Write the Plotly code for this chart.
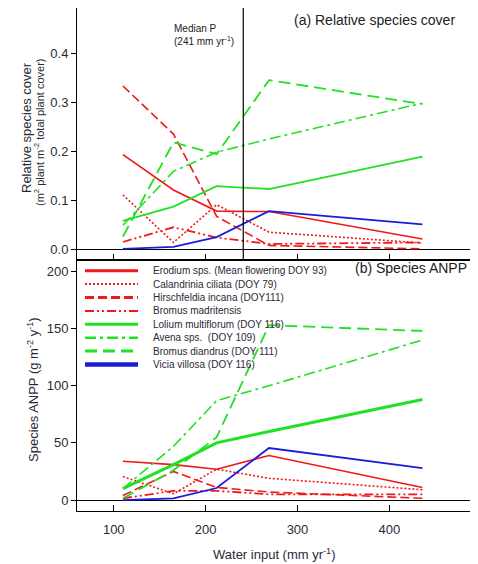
import plotly.graph_objects as go

# ---------------- data ----------------
water = [110, 165, 212, 269, 436]

species = [
    "Erodium sps. (Mean flowering DOY 93)",
    "Calandrinia ciliata (DOY 79)",
    "Hirschfeldia incana (DOY111)",
    "Bromus madritensis",
    "Lolium multiflorum (DOY 116)",
    "Avena sps.  (DOY 109)",
    "Bromus diandrus (DOY 111)",
    "Vicia villosa (DOY 116)",
]

cover_erodium = [0.194, 0.122, 0.079, 0.078, 0.022]
cover_calandrinia = [0.112, 0.015, 0.092, 0.036, 0.014]
cover_hirschfeldia = [0.334, 0.236, 0.068, 0.009, 0.002]
cover_bromus_mad = [0.016, 0.046, 0.025, 0.012, 0.015]
cover_lolium = [0.059, 0.088, 0.130, 0.124, 0.190]
cover_avena = [0.050, 0.160, 0.199, 0.226, 0.299]
cover_bromus_dia = [0.027, 0.219, 0.195, 0.346, 0.297]
cover_vicia = [0.002, 0.006, 0.026, 0.079, 0.052]

anpp_erodium = [34, 31, 27, 39, 11]
anpp_calandrinia = [20.5, 5.5, 27, 19, 9]
anpp_hirschfeldia = [4, 25, 11, 7, 1.5]
anpp_bromus_mad = [1.5, 8, 8, 5, 5]
anpp_lolium = [10, 31, 50, 60, 88]
anpp_avena = [10, 47, 87, 100, 140]
anpp_bromus_dia = [1.5, 26, 55, 153, 148]
anpp_vicia = [0, 1.5, 10.5, 45.5, 28]

median_p = 241

x_ticks = [100, 200, 300, 400]
cover_ticks = [0.0, 0.1, 0.2, 0.3, 0.4]
anpp_ticks = [0, 50, 100, 150, 200]

cover_series = [cover_erodium, cover_calandrinia, cover_hirschfeldia, cover_bromus_mad,
                cover_lolium, cover_avena, cover_bromus_dia, cover_vicia]
anpp_series = [anpp_erodium, anpp_calandrinia, anpp_hirschfeldia, anpp_bromus_mad,
               anpp_lolium, anpp_avena, anpp_bromus_dia, anpp_vicia]

# ---------------- styles ----------------
RED = "#f01818"
GREEN = "#22e022"
BLUE = "#1c1cd8"
colors = [RED, RED, RED, RED, GREEN, GREEN, GREEN, BLUE]
dashes = ["solid", "2px,2px", "9px,4px", "9px,3px,2px,3px,2px,3px",
          "solid", "11px,4px,3px,4px", "12px,6px", "solid"]
w_top = [1.6, 1.6, 1.6, 1.8, 1.8, 1.6, 1.8, 1.8]
w_bot = [1.6, 1.6, 1.6, 1.8, 3.0, 1.6, 1.8, 1.8]
w_leg = [3, 2, 3, 2, 3, 2.5, 3, 4.5]

FONT = "Liberation Sans, Arial, sans-serif"
TXT = "#2a2a36"

fig = go.Figure()
for i, name in enumerate(species):
    fig.add_trace(go.Scatter(x=water, y=cover_series[i], mode="lines", name=name,
                             line=dict(color=colors[i], dash=dashes[i], width=w_top[i]),
                             xaxis="x", yaxis="y", showlegend=False, hoverinfo="skip"))
    fig.add_trace(go.Scatter(x=water, y=anpp_series[i], mode="lines", name=name,
                             line=dict(color=colors[i], dash=dashes[i], width=w_bot[i]),
                             xaxis="x2", yaxis="y2", showlegend=False, hoverinfo="skip"))

# ---------------- layout geometry (page has an 8px body margin) ----------------
OFF = 8
W, H = 478 - OFF, 564 - OFF
PL, PR, PT, PB = 77, 472, 8, 511          # plot area in screen pixels
L, R, T, B = PL - OFF, (478 - PR), PT - OFF, 564 - PB
plot_h = PB - PT
plot_w = PR - PL


def py(pix_y):
    return (PB - pix_y) / plot_h


def px(pix_x):
    return (pix_x - PL) / plot_w


shapes = []
annotations = []

# median precipitation line (top panel only)
shapes.append(dict(type="line", xref="x", yref="y domain", x0=median_p, x1=median_p,
                   y0=0, y1=1, line=dict(color="black", width=1.2)))

# legend (manual, to match compact spacing)
row0, step = 270.7, 13.4
for i, name in enumerate(species):
    yy = py(row0 + i * step)
    shapes.append(dict(type="line", xref="paper", yref="paper", x0=px(85), x1=px(138),
                       y0=yy, y1=yy,
                       line=dict(color=colors[i], dash=dashes[i], width=w_leg[i])))
    annotations.append(dict(xref="paper", yref="paper", x=px(151), y=yy, text=name,
                            showarrow=False, xanchor="left", yanchor="middle",
                            font=dict(size=10, color=TXT, family=FONT)))

annotations += [
    dict(xref="paper", yref="paper", x=px(457), y=py(20), text="(a) Relative species cover",
         showarrow=False, xanchor="right", yanchor="middle",
         font=dict(size=14, color="#222", family=FONT)),
    dict(xref="paper", yref="paper", x=px(469), y=py(268), text="(b) Species ANPP",
         showarrow=False, xanchor="right", yanchor="middle",
         font=dict(size=14, color="#222", family=FONT)),
    dict(xref="x", yref="paper", x=median_p, xshift=-7, y=py(35),
         text="Median P<br>(241 mm yr<sup>-1</sup>)", align="left",
         showarrow=False, xanchor="right", yanchor="middle",
         font=dict(size=10, color="#222", family=FONT)),
    # y titles
    dict(xref="paper", yref="paper", x=px(26), y=py(128), text="Relative species cover",
         textangle=-90, showarrow=False, xanchor="center", yanchor="middle",
         font=dict(size=13, color=TXT, family=FONT)),
    dict(xref="paper", yref="paper", x=px(39), y=py(133),
         text="(m<sup>2</sup> plant m<sup>-2</sup> total plant cover)",
         textangle=-90, showarrow=False, xanchor="center", yanchor="middle",
         font=dict(size=11, color=TXT, family=FONT)),
    dict(xref="paper", yref="paper", x=px(33), y=py(390),
         text="Species ANPP (g m<sup>-2</sup> y<sup>-1</sup>)",
         textangle=-90, showarrow=False, xanchor="center", yanchor="middle",
         font=dict(size=13, color=TXT, family=FONT)),
    dict(xref="paper", yref="paper", x=px(274), y=py(554),
         text="Water input (mm yr<sup>-1</sup>)",
         showarrow=False, xanchor="center", yanchor="middle",
         font=dict(size=13, color=TXT, family=FONT)),
]

axis_common = dict(showgrid=False, showline=True, linecolor="black", linewidth=1,
                   mirror=True, tickcolor="black", tickwidth=1,
                   tickfont=dict(size=13, color=TXT, family=FONT))

fig.update_layout(
    width=W, height=H,
    margin=dict(l=L, r=R, t=T, b=B, pad=0),
    paper_bgcolor="white", plot_bgcolor="white",
    showlegend=False,
    font=dict(family=FONT, color=TXT),
    xaxis=dict(domain=[0, 1], range=[60, 490], anchor="y", tickvals=x_ticks,
               showticklabels=False, ticks="inside", ticklen=6, zeroline=False, **axis_common),
    yaxis=dict(domain=[0.5, 1], range=[-0.0197, 0.493], anchor="x", tickvals=cover_ticks,
               tickformat=".1f", ticks="outside", ticklen=5, zeroline=True,
               zerolinecolor="black", zerolinewidth=1, **axis_common),
    xaxis2=dict(domain=[0, 1], range=[60, 490], anchor="y2", tickvals=x_ticks,
                ticks="inside", ticklen=6, zeroline=False, ticklabelstandoff=6, **axis_common),
    yaxis2=dict(domain=[0, 0.5], range=[-9.6, 210.5], anchor="x2", tickvals=anpp_ticks,
                ticks="outside", ticklen=5, zeroline=True,
                zerolinecolor="black", zerolinewidth=1, **axis_common),
    shapes=shapes,
    annotations=annotations,
)

fig.write_html("out.html")
